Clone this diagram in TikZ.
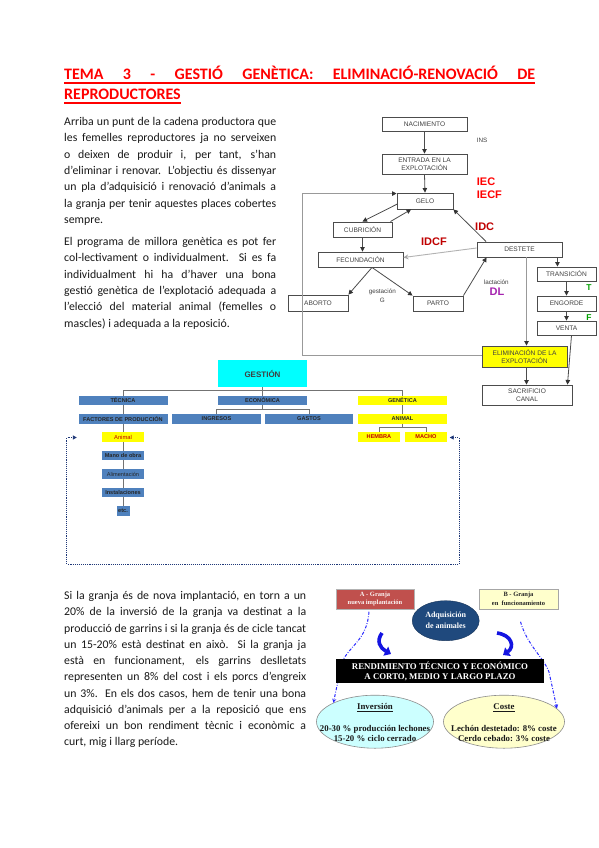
\documentclass[tikz,border=0pt]{standalone}
\usepackage{fontspec}
\setmainfont{Carlito}
\newfontfamily\arialf{Liberation Sans}
\newfontfamily\timesf{Liberation Serif}
\usetikzlibrary{arrows.meta,calc,shapes.geometric}
\definecolor{tred}{RGB}{255,0,0}
\definecolor{dred}{RGB}{192,0,0}
\definecolor{dlpurple}{RGB}{165,35,175}
\definecolor{tgreen}{RGB}{0,160,0}
\definecolor{gblue}{RGB}{79,129,189}
\definecolor{gcy}{RGB}{0,255,255}
\definecolor{gyl}{RGB}{255,255,0}
\definecolor{navyd}{RGB}{31,56,120}
\definecolor{abrown}{RGB}{192,80,77}
\definecolor{bpale}{RGB}{255,255,204}
\definecolor{adqblue}{RGB}{31,73,125}
\definecolor{cyl}{RGB}{204,255,255}
\definecolor{barrow}{RGB}{20,20,225}
\definecolor{ddblue}{RGB}{40,40,255}
\newsavebox\ulb
\newcommand\ulined[1]{\sbox\ulb{#1}\rlap{\rule[-4pt]{\wd\ulb}{1.5pt}}\usebox\ulb}
\newcommand\ulthin[1]{\sbox\ulb{#1}\rlap{\rule[-1.8pt]{\wd\ulb}{0.7pt}}\usebox\ulb}
\newcommand\jl[1]{\makebox[\linewidth][s]{#1}\\}
\begin{document}
\begin{tikzpicture}[x=1pt,y=-1pt,
  fbox/.style={draw=black!70, line width=0.9pt, fill=white, font=\arialf\fontsize{6.6}{8.3}\selectfont, text=black!75, inner sep=0pt, align=center},
  farr/.style={draw=black!70, line width=0.8pt, -{Triangle[width=4.5pt,length=4.5pt,color=black!80]}},
  glin/.style={draw=black!40, line width=0.8pt, -{Triangle[width=4.5pt,length=4.5pt,color=black!80]}},
  garr/.style={draw=black!30, line width=0.9pt, -{Stealth[width=5pt,length=5pt,color=black!35]}},
  lab/.style={font=\arialf\fontsize{6.3}{7}\selectfont, text=black!75, inner sep=0pt},
  big/.style={font=\arialf\bfseries\fontsize{11}{12}\selectfont, inner sep=0pt},
  gbox/.style={fill=gblue, inner sep=0pt, font=\arialf\bfseries\fontsize{5.6}{6}\selectfont, text=black!85, minimum height=9.5pt},
  gyel/.style={gbox, fill=gyl},
  gl/.style={draw=black!55, line width=0.9pt},
  para/.style={anchor=base west, inner sep=0pt, text=black!90},
  serif/.style={font=\timesf\bfseries\fontsize{8.8}{10}\selectfont, inner sep=0pt, align=center},
  ddash/.style={draw=ddblue, line width=1pt, dash pattern=on 3pt off 1.6pt on 0.8pt off 1.6pt, -{Stealth[width=4pt,length=4pt]}},
  barr/.style={draw=barrow, line width=3.6pt, -{Triangle[width=10pt,length=6pt]}}
]
\useasboundingbox (0,0) rectangle (599,848);
\fill[white] (0,0) rectangle (599,848);

% ---------- title ----------
\node[para, text=tred, font=\fontsize{16}{20}\selectfont\bfseries] (t1) at (64,80)
  {\ulined{\makebox[471pt][s]{TEMA 3 - GESTIÓ GENÈTICA: ELIMINACIÓ-RENOVACIÓ DE}}};
\node[para, text=tred, font=\fontsize{16}{20}\selectfont\bfseries] (t2) at (64,100)
  {\ulined{REPRODUCTORES}};

% ---------- paragraphs ----------
\node[para] (p1) at (64,125.5) {\parbox[t]{212pt}{\fontsize{11.8}{16.3}\selectfont
\jl{Arriba un punt de la cadena productora que}
\jl{les femelles reproductores ja no serveixen}
\jl{o deixen de produir i, per tant, s’han}
\jl{d’eliminar i renovar. L’objectiu és dissenyar}
\jl{un pla d’adquisició i renovació d’animals a}
\jl{la granja per tenir aquestes places cobertes}
sempre.}};
\node[para] (p2) at (64,245.5) {\parbox[t]{212pt}{\fontsize{11.8}{16.3}\selectfont
\jl{El programa de millora genètica es pot fer}
\jl{col-lectivament o individualment. Si es fa}
\jl{individualment hi ha d’haver una bona}
\jl{gestió genètica de l’explotació adequada a}
\jl{l’elecció del material animal (femelles o}
mascles) i adequada a la reposició.}};
\node[para] (p3) at (64,599.5) {\parbox[t]{242pt}{\fontsize{11.8}{16.25}\selectfont
\jl{Si la granja és de nova implantació, en torn a un}
\jl{20\% de la inversió de la granja va destinat a la}
\jl{producció de garrins i si la granja és de cicle tancat}
\jl{un 15-20\% està destinat en això. Si la granja ja}
\jl{està en funcionament, els garrins deslletats}
\jl{representen un 8\% del cost i els porcs d’engreix}
\jl{un 3\%. En els dos casos, hem de tenir una bona}
\jl{adquisició d’animals per a la reposició que ens}
\jl{ofereixi un bon rendiment tècnic i econòmic a}
curt, mig i llarg període.}};

% ---------- flow diagram ----------
\node[fbox, minimum width=85pt, minimum height=14pt] (nac) at (424.5,124) {NACIMIENTO};
\node[fbox, minimum width=85pt, minimum height=20pt] (ent) at (424.5,164) {ENTRADA EN LA\\EXPLOTACIÓN};
\node[fbox, minimum width=56pt, minimum height=16pt] (gel) at (425,201) {GELO};
\node[fbox, minimum width=59pt, minimum height=15pt] (cub) at (362.5,229.5) {CUBRICIÓN};
\node[fbox, minimum width=85pt, minimum height=15pt] (fec) at (360.5,259.5) {FECUNDACIÓN};
\node[fbox, minimum width=85pt, minimum height=15pt] (des) at (519.5,249.5) {DESTETE};
\node[fbox, minimum width=60pt, minimum height=16pt] (abo) at (318,303) {ABORTO};
\node[fbox, minimum width=50pt, minimum height=15pt] (par) at (438,303.5) {PARTO};
\node[fbox, minimum width=59pt, minimum height=14pt] (tra) at (566.5,274) {TRANSICIÓN};
\node[fbox, minimum width=59pt, minimum height=15pt] (eng) at (566.5,303.5) {ENGORDE};
\node[fbox, minimum width=59pt, minimum height=14pt] (ven) at (566.5,328) {VENTA};
\node[fbox, fill=gyl, minimum width=85pt, minimum height=21pt] (eli) at (524.5,356.5) {ELIMINACIÓN DE LA\\EXPLOTACIÓN};
\node[fbox, minimum width=90pt, minimum height=20pt] (sac) at (527,395) {SACRIFICIO\\CANAL};

\node[lab] (ins) at (482,140) {INS};
\node[big, text=tred, anchor=west] (iec) at (476.7,181.8) {IEC};
\node[big, text=tred, anchor=west] (iecf) at (476.7,195) {IECF};
\node[big, text=dred, anchor=west] (idc) at (475,226.3) {IDC};
\node[big, text=dred] (idcf) at (434,241.7) {IDCF};
\node[lab] (gest) at (382.3,292.3) {gestación};
\node[lab] (gg) at (382.3,300.5) {G};
\node[lab] (lact) at (496.3,282) {lactación};
\node[big, text=dlpurple] (dl) at (497,292.2) {DL};
\node[font=\arialf\bfseries\fontsize{8.5}{9}\selectfont, text=tgreen, inner sep=0pt] (tt) at (589,287.5) {T};
\node[font=\arialf\bfseries\fontsize{8.5}{9}\selectfont, text=tgreen, inner sep=0pt] (ff) at (589,317.5) {F};

\draw[farr] (nac) -- (ent);
\draw[farr] (ent.south) -- (gel.north);
\draw[farr] ($(gel.south west)+(1.3,-5.7)$) -- (cub.north);
\draw[farr] ($(cub.north east)+(-2,0)$) -- ($(gel.south west)+(14.5,0)$);
\draw[farr] ($(des.north west)+(9.5,0)$) -- (gel.south east);
\draw[farr] (cub.south) -- (cub.south |- fec.north);
\draw[garr] ($(des.west)+(0,-1.5)$) -- ($(fec.east)+(0,-2)$);
\draw[farr] ($(fec.south)+(11.5,0)$) -- (abo.north east);
\draw[farr] ($(fec.south)+(11.5,0)$) -- (par.north west);
\draw[farr] (par.north east) -- ($(des.south west)+(10,0)$);
\draw[farr] ($(des.south east)+(-5,0)$) -- ({$(des.south east)+(-5,0)$} |- tra.north);
\draw[farr] (tra.south) -- (eng.north);
\draw[farr] (eng.south) -- (ven.north);
\draw[glin] ($(des.south)+(7,0)$) -- ({$(des.south)+(7,0)$} |- eli.north);
\draw[farr] ($(eli.south)+(2,0)$) -- ({$(eli.south)+(2,0)$} |- sac.north);
\draw[farr] ($(ven.south)+(5,0)$) -- ($(sac.north east)+(-5,0)$);
\coordinate (lp) at (302.7,355);
\coordinate (gw) at ($(gel.north west)+(0,1)$);
\draw[glin] ($(eli.west)+(0,-1.5)$) -- (lp) -- (lp |- gw) -- (gw);

% ---------- gestion diagram ----------
\node[fill=gcy, inner sep=0pt, minimum width=89pt, minimum height=27pt, font=\arialf\bfseries\fontsize{8}{9}\selectfont, text=black!75] (ges) at (262.5,373.5) {GESTIÓN};
\node[gbox, minimum width=89pt] (tec) at (123,400.5) {TÉCNICA};
\node[gbox, minimum width=89pt] (eco) at (262.5,400.5) {ECONÓMICA};
\node[gyel, minimum width=89pt] (gen) at (402.5,400.5) {GENÉTICA};
\node[gbox, minimum width=89pt] (fac) at (123,419) {FACTORES DE PRODUCCIÓN};
\node[gbox, minimum width=89pt] (ing) at (216.5,419) {INGRESOS};
\node[gbox, minimum width=88pt] (gas) at (309,419) {GASTOS};
\node[gyel, minimum width=89pt] (ani) at (402.5,419) {ANIMAL};
\node[gyel, minimum width=42pt, text=dred, minimum height=10pt] (hem) at (379,437) {HEMBRA};
\node[gyel, minimum width=42pt, text=dred, minimum height=10pt] (mac) at (426,437) {MACHO};
\node[gyel, minimum width=42pt, text=dred, minimum height=10pt, font=\arialf\fontsize{5.8}{6}\selectfont] (anim) at (123,437) {Animal};
\node[gbox, minimum width=42pt] (man) at (123,455.5) {Mano de obra};
\node[gbox, minimum width=42pt, font=\arialf\fontsize{5.6}{6}\selectfont] (ali) at (123,474) {Alimentación};
\node[gbox, minimum width=42pt] (inst) at (123,492.5) {Instalaciones};
\node[gbox, minimum width=13pt] (etc) at (123,511) {etc.};

\draw[gl] (ges.south) -- ++(0,3.7) -| (tec.north);
\draw[gl] (ges.south) -- ++(0,3.7) -| (gen.north);
\draw[gl] (ges.south) -- (eco.north);
\draw[gl] (eco.south) -- ++(0,4.2) -| (ing.north);
\draw[gl] (eco.south) -- ++(0,4.2) -| (gas.north);
\draw[gl] (tec.south) -- (fac.north);
\draw[gl] (gen.south) -- (ani.north);
\draw[gl] (ani.south) -- ++(0,3.7) -| (hem.north);
\draw[gl] (ani.south) -- ++(0,3.7) -| (mac.north);
\draw[gl] (fac.south) -- (anim.north);
\draw[gl] (anim) -- (man);
\draw[gl] (man) -- (ali);
\draw[gl] (ali) -- (inst);
\draw[gl] (inst) -- (etc);

\coordinate (dr) at ($(mac.east)+(2.5,0.5)$);
\coordinate (dl) at ($(anim.west)+(-25,0.5)$);
\draw[navyd, densely dotted, line width=0.9pt, {Triangle[width=4pt,length=4pt]}-{Triangle[width=4pt,length=4pt]}]
  (dr) -- (459,437.5) -- (459,564) -- (66.7,564) -- (66.7,437.5) -- (dl);

% ---------- bottom-right diagram ----------
\node[fill=abrown, draw=black!30, line width=0.5pt, minimum width=78pt, minimum height=20pt, inner sep=0pt, align=center, font=\timesf\bfseries\fontsize{6.5}{8.6}\selectfont, text=white!85!abrown!40!white] (abox) at (375,599) {A - Granja\\nueva implantación};
\node[fill=bpale, draw=black!35, line width=0.5pt, minimum width=79pt, minimum height=20pt, inner sep=0pt, align=center, font=\timesf\bfseries\fontsize{6.5}{8.6}\selectfont, text=black!85] (bbox) at (518.5,599) {B - Granja\\en \ funcionamiento};
\node[ellipse, fill=adqblue, draw=adqblue!70!black, minimum width=67pt, minimum height=40pt, inner sep=0pt, align=center, font=\timesf\bfseries\fontsize{8}{11}\selectfont, text=white] (adq) at (445.7,620.7) {Adquisición\\de animales};

\node[ellipse, fill=cyl, draw=black!45, line width=0.6pt, minimum width=117pt, minimum height=53pt, inner sep=0pt] (inv) at (375,721.7) {};
\node[ellipse, fill=bpale, draw=black!45, line width=0.6pt, minimum width=121pt, minimum height=53pt, inner sep=0pt] (cos) at (504,721.7) {};
\node[serif, text=black!90] (invt) at (375,722.5) {\ulthin{Inversión}\\[11.6pt]20-30 \% producción lechones\\15-20 \% ciclo cerrado};
\node[serif, text=black!90] (cost) at (504,722.5) {\ulthin{Coste}\\[11.6pt]Lechón destetado: 8\% coste\\Cerdo cebado: 3\% coste};

\draw[ddash] ($(abox.south)+(-6,2.5)$) .. controls (367,640) and (350,645) .. (342,662) -- (inv.north west);
\draw[ddash] ($(bbox.south)+(2,12.5)$) .. controls (527,645) and (544,658) .. (549,672) -- (cos.14);

\node[fill=black, minimum width=208pt, minimum height=24pt, text=white, serif] (rend) at (440,671) {RENDIMIENTO TÉCNICO Y ECONÓMICO\\A CORTO, MEDIO Y LARGO PLAZO};

\coordinate (la1) at (382,633);
\coordinate (la2) at (391,654);
\coordinate (ra1) at (497,633);
\coordinate (ra2) at (503,655);
\draw[barr] (la1) .. controls (376,641) and (380,648) .. (la2);
\draw[barr] (ra1) .. controls (512,635) and (515,647) .. (ra2);
\end{tikzpicture}
\end{document}
